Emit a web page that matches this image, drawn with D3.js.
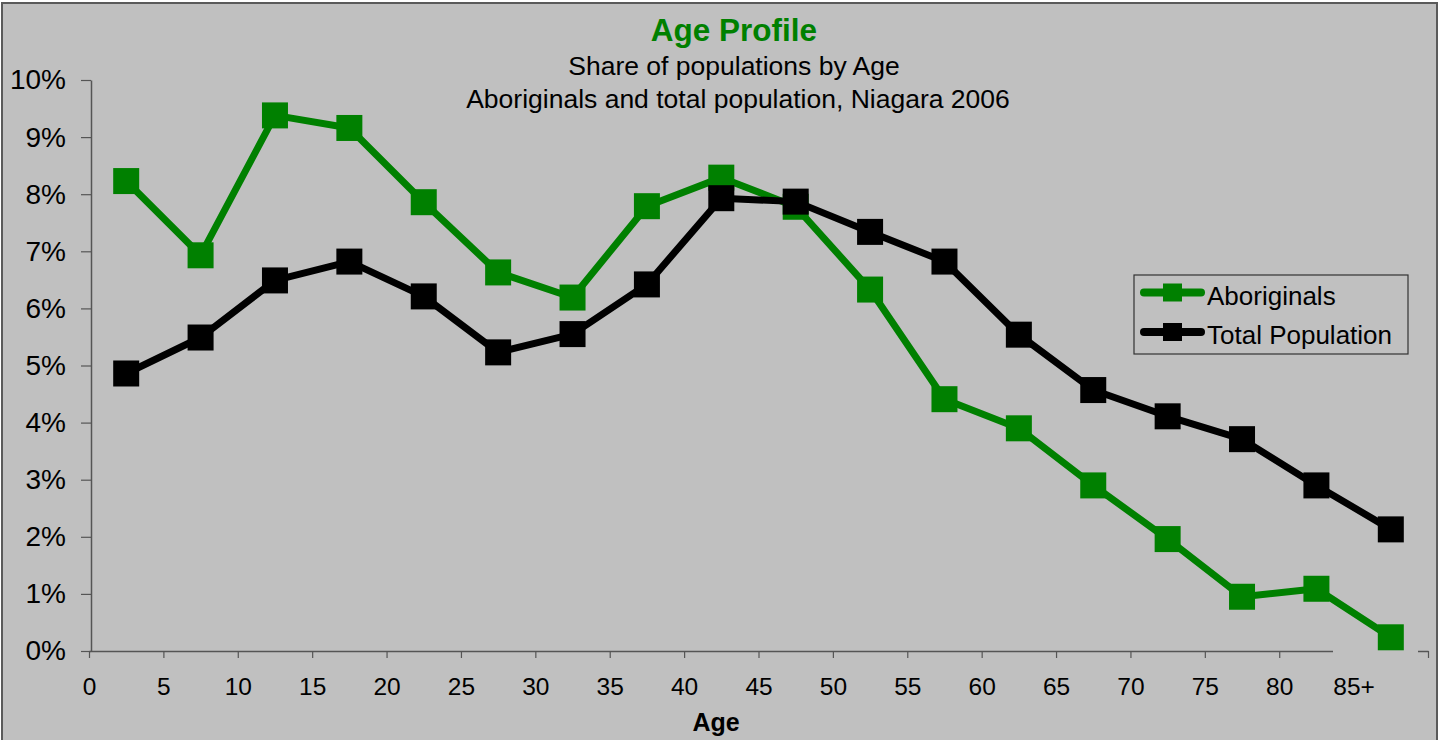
<!DOCTYPE html>
<html>
<head>
<meta charset="utf-8">
<script src="https://cdn.jsdelivr.net/npm/d3@7"></script>
<style>
  html, body { margin: 0; padding: 0; background: #fff; }
  svg { display: block; font-family: "Liberation Sans", Arial, sans-serif; }
</style>
</head>
<body>
<div id="chart"></div>
<script>
// age group midpoints (5-year bands, last one is 85+)
const ages = [2.5, 7.5, 12.5, 17.5, 22.5, 27.5, 32.5, 37.5, 42.5, 47.5, 52.5, 57.5, 62.5, 67.5, 72.5, 77.5, 82.5, 87.5];
// share of population, %
const aboriginals = [8.23, 6.93, 9.38, 9.16, 7.86, 6.63, 6.19, 7.79, 8.29, 7.78, 6.33, 4.41, 3.90, 2.90, 1.96, 0.95, 1.09, 0.24];
const totalPop = [4.86, 5.49, 6.49, 6.82, 6.21, 5.23, 5.55, 6.42, 7.93, 7.87, 7.34, 6.82, 5.54, 4.57, 4.11, 3.71, 2.90, 2.13];
const xTicks = [0, 5, 10, 15, 20, 25, 30, 35, 40, 45, 50, 55, 60, 65, 70, 75, 80, 85, 90];
const yTicks = [0, 1, 2, 3, 4, 5, 6, 7, 8, 9, 10];

const series = [
  { name: 'Aboriginals', values: aboriginals, color: '#008000' },
  { name: 'Total Population', values: totalPop, color: '#000000' }
];

const W = 1442, H = 740;
const bg = '#c0c0c0';

const svg = d3.select('#chart').append('svg').attr('width', W).attr('height', H);

svg.append('rect')
  .attr('x', 2).attr('y', 3).attr('width', 1435).attr('height', 760)
  .attr('fill', bg).attr('stroke', '#5a5a5a').attr('stroke-width', 2);

const x = d3.scaleLinear().domain([0, 90]).range([89, 1428]);
const y = d3.scaleLinear().domain([0, 10]).range([651, 80]);

// titles
svg.append('text')
  .attr('x', 734).attr('y', 41).attr('text-anchor', 'middle')
  .attr('fill', '#008000').attr('font-size', 31.5).attr('font-weight', 'bold')
  .text('Age Profile');
svg.append('text')
  .attr('x', 734).attr('y', 75).attr('text-anchor', 'middle')
  .attr('font-size', 26.5).text('Share of populations by Age');
svg.append('text')
  .attr('x', 738).attr('y', 108).attr('text-anchor', 'middle')
  .attr('font-size', 26.5).text('Aboriginals and total population, Niagara 2006');

// x axis
const xAxis = svg.append('g')
  .attr('transform', `translate(0,${y(0)})`)
  .call(d3.axisBottom(x)
    .tickValues(xTicks)
    .tickSize(7)
    .tickSizeOuter(0)
    .tickPadding(20)
    .tickFormat(d => d === 85 ? '85+' : d === 90 ? '' : d));
xAxis.select('.domain').attr('stroke', '#555').attr('stroke-width', 1.5);
xAxis.selectAll('.tick line').attr('stroke', '#555').attr('stroke-width', 1.2);
xAxis.selectAll('.tick text')
  .attr('font-size', 24.5).attr('fill', '#000')
  .attr('font-family', '"Liberation Sans", Arial, sans-serif');

// the 85+ label box hides the axis line around it
svg.append('rect')
  .attr('x', 1333).attr('y', 649.5).attr('width', 85).attr('height', 14)
  .attr('fill', bg);

// y axis
const yAxis = svg.append('g')
  .attr('transform', 'translate(91,0)')
  .call(d3.axisLeft(y)
    .tickValues(yTicks)
    .tickSize(10)
    .tickSizeOuter(0)
    .tickPadding(15)
    .tickFormat(d => d + '%'));
yAxis.select('.domain').attr('stroke', '#555').attr('stroke-width', 1.5);
yAxis.selectAll('.tick line').attr('stroke', '#555').attr('stroke-width', 1.2);
yAxis.selectAll('.tick text')
  .attr('font-size', 28).attr('fill', '#000')
  .attr('font-family', '"Liberation Sans", Arial, sans-serif');

svg.append('text')
  .attr('x', 716).attr('y', 731).attr('text-anchor', 'middle')
  .attr('font-size', 25).attr('font-weight', 'bold')
  .text('Age');

// lines + markers
const line = d3.line()
  .x((d, i) => x(ages[i]))
  .y(d => y(d));

const mk = 26;
series.forEach(s => {
  svg.append('path')
    .datum(s.values)
    .attr('d', line)
    .attr('fill', 'none')
    .attr('stroke', s.color)
    .attr('stroke-width', 7)
    .attr('stroke-linejoin', 'round');

  svg.append('g').selectAll('rect')
    .data(s.values)
    .join('rect')
    .attr('x', (d, i) => x(ages[i]) - mk / 2)
    .attr('y', d => y(d) - mk / 2)
    .attr('width', mk).attr('height', mk)
    .attr('fill', s.color);
});

// legend
const lg = svg.append('g');
lg.append('rect')
  .attr('x', 1134).attr('y', 275).attr('width', 274).attr('height', 79)
  .attr('fill', bg).attr('stroke', '#333').attr('stroke-width', 1.2);

series.forEach((s, i) => {
  const cy = 292.5 + i * 39.5;
  lg.append('line')
    .attr('x1', 1144).attr('x2', 1201).attr('y1', cy).attr('y2', cy)
    .attr('stroke', s.color).attr('stroke-width', 8).attr('stroke-linecap', 'round');
  lg.append('rect')
    .attr('x', 1163).attr('y', cy - 9).attr('width', 19).attr('height', 18)
    .attr('fill', s.color);
  lg.append('text')
    .attr('x', 1207).attr('y', cy + 12)
    .attr('font-size', 26).text(s.name);
});
</script>
</body>
</html>
